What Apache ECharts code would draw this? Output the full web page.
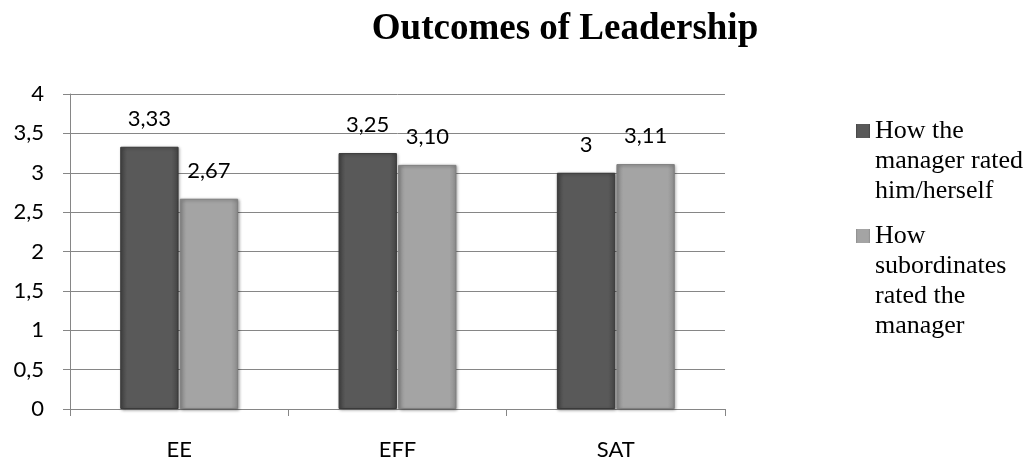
<!DOCTYPE html>
<html>
<head>
<meta charset="utf-8">
<script src="https://cdn.jsdelivr.net/npm/echarts@6/dist/echarts.min.js"></script>
<style>
  html, body { margin: 0; padding: 0; background: #fff; }
  #chart { width: 1029px; height: 463px; }
</style>
</head>
<body>
<div id="chart"></div>
<script>
// data
const categories = ['EE', 'EFF', 'SAT'];
const managerSelf = [3.33, 3.25, 3];
const subordinates = [2.67, 3.10, 3.11];
const managerSelfLabels = ['3,33', '3,25', '3'];
const subordinatesLabels = ['2,67', '3,10', '3,11'];
const seriesNames = ['How the manager rated him/herself', 'How subordinates rated the manager'];
const legendLines = [
  ['How the', 'manager rated', 'him/herself'],
  ['How', 'subordinates', 'rated the', 'manager']
];

const gradient = (edge, mid) => new echarts.graphic.LinearGradient(0, 0, 1, 0, [
  { offset: 0, color: edge },
  { offset: 0.12, color: mid },
  { offset: 0.88, color: mid },
  { offset: 1, color: edge }
]);

const labelFont = { fontFamily: 'Lato', fontSize: 22, color: '#000' };

const chart = echarts.init(document.getElementById('chart'), null, { renderer: 'canvas' });
chart.setOption({
  animation: false,
  backgroundColor: '#fff',
  title: {
    text: 'Outcomes of Leadership',
    left: 560,
    top: 6,
    textAlign: 'center',
    textStyle: { fontFamily: 'Liberation Serif', fontWeight: 'bold', fontSize: 37, color: '#000' }
  },
  legend: {
    orient: 'vertical',
    left: 856,
    top: 101,
    padding: 0,
    itemWidth: 14,
    itemHeight: 120,
    itemGap: 0,
    itemStyle: { borderWidth: 0, shadowBlur: 0 },
    data: [
      // square drawn next to the first text line
      { name: seriesNames[0], icon: 'path://M0,0L14,0M0,23L14,23L14,37L0,37ZM0,120L14,120' },
      { name: seriesNames[1], icon: 'path://M0,0L14,0M0,8L14,8L14,22L0,22ZM0,120L14,120' }
    ],
    formatter: name => legendLines[seriesNames.indexOf(name)].join('\n'),
    textStyle: { fontFamily: 'Liberation Serif', fontSize: 26, lineHeight: 30, color: '#000' }
  },
  grid: { left: 70, right: 304, top: 94, bottom: 54, containLabel: false },
  xAxis: {
    type: 'category',
    data: categories,
    axisLine: { lineStyle: { color: '#868686' } },
    axisTick: { show: true, length: 7, lineStyle: { color: '#868686' } },
    axisLabel: { margin: 30, ...labelFont }
  },
  yAxis: {
    type: 'value',
    min: 0,
    max: 4,
    interval: 0.5,
    axisLine: { show: true, lineStyle: { color: '#868686' } },
    axisTick: { show: true, length: 7, lineStyle: { color: '#868686' } },
    axisLabel: { margin: 26, ...labelFont, formatter: v => String(v).replace('.', ',') },
    splitLine: { lineStyle: { color: '#868686' } }
  },
  series: [
    {
      name: seriesNames[0],
      type: 'bar',
      data: managerSelf,
      barGap: '2%',
      barCategoryGap: '46%',
      itemStyle: {
        color: gradient('#444444', '#595959'),
        borderColor: '#3a3a3a',
        borderWidth: 1,
        shadowBlur: 3,
        shadowOffsetX: 1,
        shadowOffsetY: 1,
        shadowColor: 'rgba(0,0,0,0.35)'
      },
      label: {
        show: true,
        position: 'top',
        distance: 17,
        ...labelFont,
        formatter: p => managerSelfLabels[p.dataIndex]
      }
    },
    {
      name: seriesNames[1],
      type: 'bar',
      data: subordinates,
      itemStyle: {
        color: gradient('#8c8c8c', '#a4a4a4'),
        borderColor: '#7f7f7f',
        borderWidth: 1,
        shadowBlur: 3,
        shadowOffsetX: 1,
        shadowOffsetY: 1,
        shadowColor: 'rgba(0,0,0,0.35)'
      },
      label: {
        show: true,
        position: 'top',
        distance: 17,
        ...labelFont,
        formatter: p => subordinatesLabels[p.dataIndex]
      }
    }
  ]
});
</script>
</body>
</html>
